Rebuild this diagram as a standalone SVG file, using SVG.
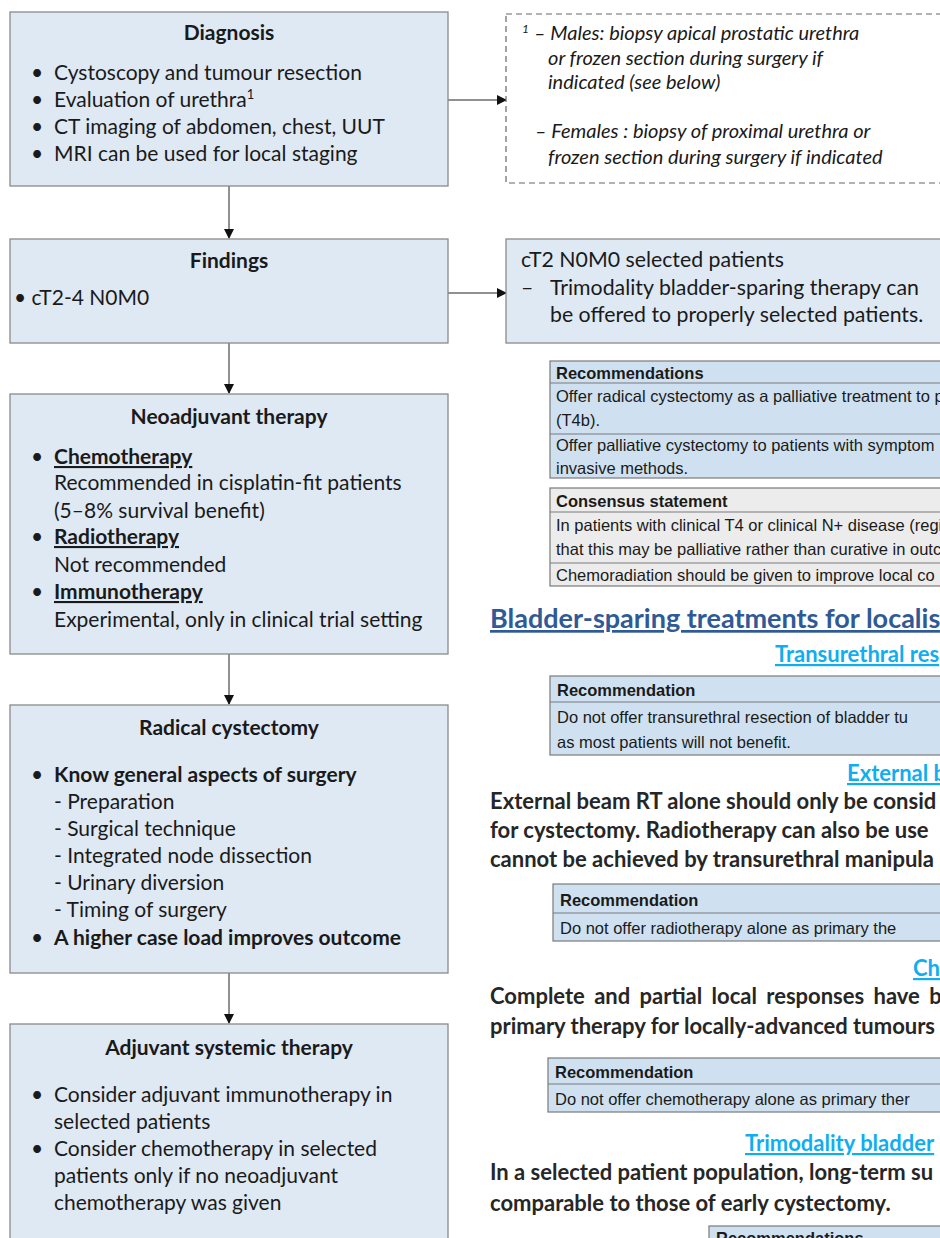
<svg xmlns="http://www.w3.org/2000/svg" width="940" height="1238" viewBox="0 0 940 1238">
<defs>
<style>
.box{fill:#dee9f4;stroke:#8a8a8a;stroke-width:1.3}
.t{font-family:Lato,"Open Sans",sans-serif;font-size:21px;fill:#1a1a1a}
.t22{font-family:Lato,"Open Sans",sans-serif;font-size:21.3px;fill:#1a1a1a}
.h{font-family:Lato,"Open Sans",sans-serif;font-size:21px;font-weight:bold;fill:#1a1a1a}
.u{text-decoration:underline}
.it{font-family:Lato,"Open Sans",sans-serif;font-size:20px;font-style:italic;fill:#1a1a1a}
.sup{font-family:Lato,"Open Sans",sans-serif;font-size:12px;font-style:italic;fill:#1a1a1a}
.tb{font-family:"Liberation Sans",Arial,sans-serif;font-size:16.5px;fill:#1a1a1a}
.tbh{font-family:"Liberation Sans",Arial,sans-serif;font-size:16.5px;font-weight:bold;fill:#1a1a1a}
.tbl{fill:#cfe1f0;stroke:#7a7a7a;stroke-width:1.2}
.tbg{fill:#ececec;stroke:#7a7a7a;stroke-width:1.2}
.sep{stroke:#7a7a7a;stroke-width:1.2}
.ttl{font-family:Lato,"Open Sans",sans-serif;font-size:27px;font-weight:bold;fill:#2f5a95;text-decoration:underline}
.sub{font-family:Lato,"Open Sans",sans-serif;font-size:22px;font-weight:bold;fill:#10aef0;text-decoration:underline}
.p{font-family:Lato,"Open Sans",sans-serif;font-size:22px;font-weight:bold;fill:#262626}
.ln{stroke:#222;stroke-width:1;fill:none}
</style>
<marker id="ah" markerWidth="10" markerHeight="10" refX="9" refY="5" orient="auto" markerUnits="userSpaceOnUse">
<path d="M0,0 L10,5 L0,10 z" fill="#111"/>
</marker>
</defs>

<g id="connectors">
<line class="ln" x1="229" y1="186" x2="229" y2="238" marker-end="url(#ah)"/>
<line class="ln" x1="229" y1="343" x2="229" y2="393" marker-end="url(#ah)"/>
<line class="ln" x1="229" y1="654" x2="229" y2="704" marker-end="url(#ah)"/>
<line class="ln" x1="229" y1="973" x2="229" y2="1023" marker-end="url(#ah)"/>
<line class="ln" x1="448" y1="100" x2="506" y2="100" marker-end="url(#ah)"/>
<line class="ln" x1="448" y1="293" x2="506" y2="293" marker-end="url(#ah)"/>
</g>

<g id="diagnosis">
<rect class="box" x="10" y="12" width="438" height="174"/>
<text class="h" x="229" y="40" text-anchor="middle">Diagnosis</text>
<text class="t" x="31" y="80">•</text><text class="t" x="54" y="80">Cystoscopy and tumour resection</text>
<text class="t" x="31" y="107">•</text><text class="t" x="54" y="107">Evaluation of urethra<tspan style="font-size:13px" dy="-8">1</tspan></text>
<text class="t" x="31" y="134">•</text><text class="t" x="54" y="134">CT imaging of abdomen, chest, UUT</text>
<text class="t" x="31" y="161">•</text><text class="t" x="54" y="161">MRI can be used for local staging</text>
</g>

<g id="footnote">
<rect x="506" y="14" width="450" height="169" fill="#fff" stroke="#666" stroke-width="1.2" stroke-dasharray="6,4"/>
<text class="sup" x="522" y="33">1</text>
<text class="it" x="534" y="40">– Males: biopsy apical prostatic urethra</text>
<text class="it" x="548" y="65">or frozen section during surgery if</text>
<text class="it" x="548" y="89">indicated (see below)</text>
<text class="it" x="535" y="138">– Females : biopsy of proximal urethra or</text>
<text class="it" x="548" y="164">frozen section during surgery if indicated</text>
</g>

<g id="findings">
<rect class="box" x="10" y="239" width="438" height="104"/>
<text class="h" x="229" y="268" text-anchor="middle">Findings</text>
<text class="t" x="14" y="305">• cT2-4 N0M0</text>
</g>

<g id="selected">
<rect class="box" x="506" y="239" width="450" height="104"/>
<text class="t22" x="521" y="267">cT2 N0M0 selected patients</text>
<text class="t22" x="521" y="295">–</text>
<text class="t22" x="550" y="295">Trimodality bladder-sparing therapy can</text>
<text class="t22" x="550" y="322">be offered to properly selected patients.</text>
</g>

<g id="neoadjuvant">
<rect class="box" x="10" y="394" width="438" height="260"/>
<text class="h" x="229" y="424" text-anchor="middle">Neoadjuvant therapy</text>
<text class="t" x="31" y="464">•</text><text class="h u" x="54" y="464">Chemotherapy</text>
<text class="t" x="54" y="490">Recommended in cisplatin-fit patients</text>
<text class="t" x="54" y="518">(5–8% survival benefit)</text>
<text class="t" x="31" y="544">•</text><text class="h u" x="54" y="544">Radiotherapy</text>
<text class="t" x="54" y="572">Not recommended</text>
<text class="t" x="31" y="599">•</text><text class="h u" x="54" y="599">Immunotherapy</text>
<text class="t" x="54" y="627">Experimental, only in clinical trial setting</text>
</g>

<g id="radical">
<rect class="box" x="10" y="705" width="438" height="268"/>
<text class="h" x="229" y="735" text-anchor="middle">Radical cystectomy</text>
<text class="t" x="31" y="782">•</text><text class="h" x="54" y="782">Know general aspects of surgery</text>
<text class="t" x="54" y="809">- Preparation</text>
<text class="t" x="54" y="836">- Surgical technique</text>
<text class="t" x="54" y="863">- Integrated node dissection</text>
<text class="t" x="54" y="890">- Urinary diversion</text>
<text class="t" x="54" y="917">- Timing of surgery</text>
<text class="t" x="31" y="945">•</text><text class="h" x="54" y="945">A higher case load improves outcome</text>
</g>

<g id="adjuvant">
<rect class="box" x="10" y="1024" width="438" height="230"/>
<text class="h" x="229" y="1055" text-anchor="middle">Adjuvant systemic therapy</text>
<text class="t" x="31" y="1102">•</text><text class="t" x="54" y="1102">Consider adjuvant immunotherapy in</text>
<text class="t" x="54" y="1129">selected patients</text>
<text class="t" x="31" y="1156">•</text><text class="t" x="54" y="1156">Consider chemotherapy in selected</text>
<text class="t" x="54" y="1183">patients only if no neoadjuvant</text>
<text class="t" x="54" y="1210">chemotherapy was given</text>
</g>

<g id="rec-table-1">
<rect class="tbl" x="550" y="361" width="400" height="117"/>
<line class="sep" x1="550" y1="383" x2="950" y2="383"/>
<line class="sep" x1="550" y1="434" x2="950" y2="434"/>
<text class="tbh" x="556" y="379">Recommendations</text>
<text class="tb" x="556" y="402">Offer radical cystectomy as a palliative treatment to p</text>
<text class="tb" x="556" y="426">(T4b).</text>
<text class="tb" x="556" y="451">Offer palliative cystectomy to patients with symptom</text>
<text class="tb" x="556" y="474">invasive methods.</text>
</g>

<g id="consensus-table">
<rect class="tbg" x="550" y="488" width="400" height="98"/>
<line class="sep" x1="550" y1="512" x2="950" y2="512"/>
<line class="sep" x1="550" y1="563" x2="950" y2="563"/>
<text class="tbh" x="556" y="507">Consensus statement</text>
<text class="tb" x="556" y="531">In patients with clinical T4 or clinical N+ disease (regi</text>
<text class="tb" x="556" y="555">that this may be palliative rather than curative in outc</text>
<text class="tb" x="556" y="581">Chemoradiation should be given to improve local co</text>
</g>

<g id="bladder-sparing">
<text class="ttl" x="490" y="628">Bladder-sparing treatments for localis</text>
<text class="sub" x="775" y="662">Transurethral res</text>
</g>

<g id="rec-table-2">
<rect class="tbl" x="550" y="676" width="400" height="79"/>
<line class="sep" x1="550" y1="702" x2="950" y2="702"/>
<text class="tbh" x="557" y="696">Recommendation</text>
<text class="tb" x="557" y="723">Do not offer transurethral resection of bladder tu</text>
<text class="tb" x="557" y="748">as most patients will not benefit.</text>
</g>

<g id="external-beam">
<text class="sub" x="847" y="781">External b</text>
<text class="p" x="490" y="809">External beam RT alone should only be consid</text>
<text class="p" x="490" y="838">for cystectomy. Radiotherapy can also be use</text>
<text class="p" x="490" y="867">cannot be achieved by transurethral manipula</text>
</g>

<g id="rec-table-3">
<rect class="tbl" x="553" y="884" width="400" height="57"/>
<line class="sep" x1="553" y1="913" x2="953" y2="913"/>
<text class="tbh" x="560" y="906">Recommendation</text>
<text class="tb" x="560" y="934">Do not offer radiotherapy alone as primary the</text>
</g>

<g id="chemo">
<text class="sub" x="913" y="976">Ch</text>
<text class="p" x="490" y="1004" word-spacing="4">Complete and partial local responses have b</text>
<text class="p" x="490" y="1034">primary therapy for locally-advanced tumours</text>
</g>

<g id="rec-table-4">
<rect class="tbl" x="548" y="1058" width="400" height="54"/>
<line class="sep" x1="548" y1="1084" x2="948" y2="1084"/>
<text class="tbh" x="555" y="1078">Recommendation</text>
<text class="tb" x="555" y="1105">Do not offer chemotherapy alone as primary ther</text>
</g>

<g id="trimodality">
<text class="sub" x="745" y="1151">Trimodality bladder</text>
<text class="p" x="490" y="1180">In a selected patient population, long-term su</text>
<text class="p" x="490" y="1211">comparable to those of early cystectomy.</text>
</g>

<g id="rec-table-5">
<rect class="tbl" x="709" y="1226" width="250" height="40"/>
<text class="tbh" x="716" y="1244">Recommendations</text>
</g>
</svg>
